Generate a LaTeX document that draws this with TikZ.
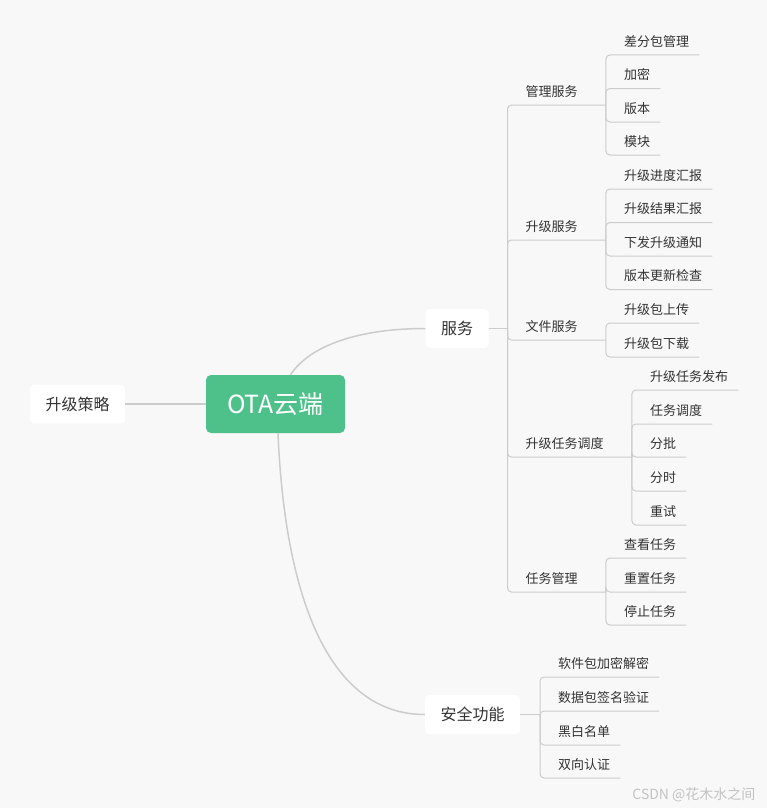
\documentclass[tikz,border=0pt]{standalone}
\usepackage{fontspec}
\setmainfont{Noto Sans CJK SC}
\definecolor{bggray}{RGB}{248,248,248}
\definecolor{otagreen}{RGB}{78,193,139}
\definecolor{txtgray}{RGB}{51,51,51}
\definecolor{linegray}{RGB}{204,204,204}
\definecolor{markgray}{RGB}{195,195,195}
\newcommand{\pxfont}[1]{\fontsize{#1}{#1}\selectfont}
\tikzset{
  root/.style={fill=otagreen, text=white, rounded corners=5pt, minimum width=139pt,
    minimum height=58pt, font=\pxfont{25}},
  topic/.style={fill=white, text=txtgray, rounded corners=4pt, inner xsep=15.5pt,
    minimum height=39pt, font=\pxfont{16}},
  leaf/.style={text=txtgray, font=\pxfont{13}, inner xsep=10pt, inner ysep=0pt,
    minimum height=25pt, text height=.83em, text depth=.07em, anchor=south west, xshift=8pt},
  link/.style={draw=linegray, line width=1.5pt},
  branch/.style={draw=linegray, line width=1pt, rounded corners=4pt}
}
\begin{document}
\begin{tikzpicture}[x=1pt, y=-1pt]
  \fill[bggray] (0,0) rectangle (767,808);
  \useasboundingbox (0,0) rectangle (767,808);

  % Centre and first level
  \node[root] (ota) at (275.5,404) {OTA云端};
  \node[topic] (strategy) at (77.5,404) {升级策略};
  \node[topic] (service) at (457,328.5) {服务};
  \node[topic] (security) at (472.5,714.5) {安全功能};

  \draw[link] (strategy) -- (ota);
  \draw[link] ([xshift=15pt]ota.north) .. controls (310,345) and (360,328.5) .. (service.west);
  \draw[link] ([xshift=2.5pt]ota.south) .. controls (285,600) and (330,714.5) .. (security.west);

  % Service tree
  \coordinate (svc-j) at (507.5,328.5);
  \draw[link] (service) -- (svc-j);
  \node[leaf] (mgmt) at (507.5,105) {管理服务};
  \node[leaf] (upgrade) at (507.5,240) {升级服务};
  \node[leaf] (file) at (507.5,340) {文件服务};
  \node[leaf] (sched) at (507.5,457) {升级任务调度};
  \node[leaf] (taskmgr) at (507.5,592) {任务管理};
  \foreach \sub in {mgmt,upgrade,file,sched,taskmgr} {
    \coordinate (\sub-j) at ([xshift=18pt]\sub.south east);
    \draw[branch] (svc-j) |- (\sub-j);
  }

  % Leaves of the service tree
  \node[leaf] (diff) at (mgmt-j |- 0,55) {差分包管理};
  \node[leaf] (encrypt) at (mgmt-j |- 0,88.5) {加密};
  \node[leaf] (version) at (mgmt-j |- 0,122) {版本};
  \node[leaf] (module) at (mgmt-j |- 0,155) {模块};
  \foreach \leaf in {diff,encrypt,version,module}
    \draw[branch] (mgmt-j) |- (\leaf.south east);

  \node[leaf] (progress) at (upgrade-j |- 0,189) {升级进度汇报};
  \node[leaf] (result) at (upgrade-j |- 0,222.5) {升级结果汇报};
  \node[leaf] (notify) at (upgrade-j |- 0,256) {下发升级通知};
  \node[leaf] (check) at (upgrade-j |- 0,289.5) {版本更新检查};
  \foreach \leaf in {progress,result,notify,check}
    \draw[branch] (upgrade-j) |- (\leaf.south east);

  \node[leaf] (upload) at (file-j |- 0,323) {升级包上传};
  \node[leaf] (download) at (file-j |- 0,357) {升级包下载};
  \foreach \leaf in {upload,download}
    \draw[branch] (file-j) |- (\leaf.south east);

  \node[leaf] (publish) at (sched-j |- 0,390) {升级任务发布};
  \node[leaf] (dispatch) at (sched-j |- 0,424) {任务调度};
  \node[leaf] (batch) at (sched-j |- 0,457) {分批};
  \node[leaf] (timed) at (sched-j |- 0,491) {分时};
  \node[leaf] (retry) at (sched-j |- 0,525) {重试};
  \foreach \leaf in {publish,dispatch,batch,timed,retry}
    \draw[branch] (sched-j) |- (\leaf.south east);

  \node[leaf] (view) at (taskmgr-j |- 0,558) {查看任务};
  \node[leaf] (reset) at (taskmgr-j |- 0,592) {重置任务};
  \node[leaf] (stop) at (taskmgr-j |- 0,625) {停止任务};
  \foreach \leaf in {view,reset,stop}
    \draw[branch] (taskmgr-j) |- (\leaf.south east);

  % Security tree
  \coordinate (sec-j) at (540,714.5);
  \draw[link] (security) -- (sec-j);
  \node[leaf] (pkgcrypt) at (sec-j |- 0,677) {软件包加密解密};
  \node[leaf] (signature) at (sec-j |- 0,711) {数据包签名验证};
  \node[leaf] (blacklist) at (sec-j |- 0,745) {黑白名单};
  \node[leaf] (mutual) at (sec-j |- 0,778) {双向认证};
  \foreach \leaf in {pkgcrypt,signature,blacklist,mutual}
    \draw[branch] (sec-j) |- (\leaf.south east);

  \node[anchor=east, text=markgray, font=\pxfont{14}] (mark) at (759,795) {CSDN @花木水之间};
\end{tikzpicture}
\end{document}
